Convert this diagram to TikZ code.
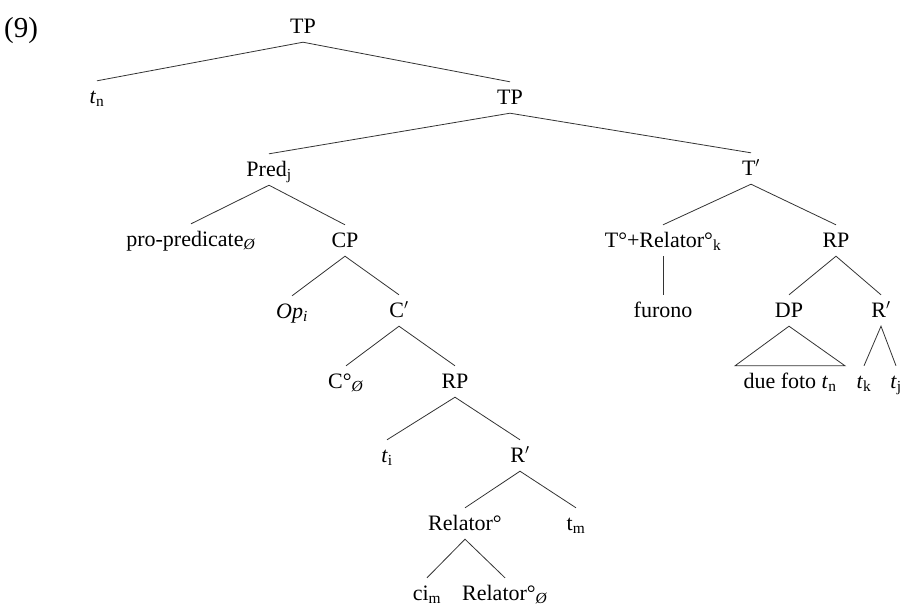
\documentclass[tikz,border=0pt]{standalone}
\usepackage{fontspec}
\setmainfont{Liberation Serif}
\usetikzlibrary{calc}
\tikzset{
  lbl/.style={anchor=base, inner xsep=1pt, inner ysep=5pt, text height=17pt, text depth=4pt, font=\fontsize{22}{26}\selectfont},
  br/.style={draw=black!80, line width=0.8pt}
}
\newcommand{\sub}[1]{\textsubscript{#1}}
\newcommand{\nul}{\textsubscript{\textit{Ø}}}
\begin{document}
\begin{tikzpicture}[x=1pt,y=-1pt]
\useasboundingbox (0,0) rectangle (902,606);
\node[anchor=base west, inner sep=0pt, font=\fontsize{29}{33}\selectfont] (ex) at (4,37) {(9)};
% nodes
\node[lbl] (tp1) at (303,33) {TP};
\node[lbl] (tn) at (97,103) {\textit{t}\sub{n}};
\node[lbl] (tp2) at (510,104) {TP};
\node[lbl] (pred) at (269,176) {Pred\sub{j}};
\node[lbl] (tbar) at (751,175) {T$'$};
\node[lbl] (pro) at (191,246) {pro-predicate\nul};
\node[lbl] (cp) at (345,247) {CP};
\node[lbl] (op) at (292,318) {\textit{Op}\textsubscript{\textit{i}}};
\node[lbl] (cbar) at (399,317) {C$'$};
\node[lbl] (czero) at (346,388) {C°\nul};
\node[lbl] (rp1) at (455,388) {RP};
\node[lbl] (ti) at (387,462) {\textit{t}\sub{i}};
\node[lbl] (rbar1) at (520,462) {R$'$};
\node[lbl] (rel) at (465,530) {Relator°};
\node[lbl] (tm) at (576,530) {t\sub{m}};
\node[lbl] (ci) at (427,600) {ci\sub{m}};
\node[lbl] (relz) at (505,600) {Relator°\nul};
\node[lbl] (trel) at (663,247) {T°+Relator°\sub{k}};
\node[lbl] (rp2) at (836,247) {RP};
\node[lbl] (fur) at (663,317) {furono};
\node[lbl] (dp) at (789,317) {DP};
\node[lbl] (rbar2) at (881,317) {R$'$};
\node[lbl] (due) at (790,388) {due foto \textit{t}\sub{n}};
\node[lbl] (tk) at (864,388) {\textit{t}\sub{k}};
\node[lbl] (tj) at (896,388) {\textit{t}\sub{j}};
% branches
\draw[br] (tn.north) -- (tp1.south) -- (tp2.north);
\draw[br] (pred.north) -- (tp2.south) -- (tbar.north);
\draw[br] (pro.north) -- (pred.south) -- (cp.north);
\draw[br] (op.north) -- (cp.south) -- (cbar.north);
\draw[br] (czero.north) -- (cbar.south) -- (rp1.north);
\draw[br] (ti.north) -- (rp1.south) -- (rbar1.north);
\draw[br] (rel.north) -- (rbar1.south) -- (tm.north);
\draw[br] (ci.north) -- (rel.south) -- (relz.north);
\draw[br] (trel.north) -- (tbar.south) -- (rp2.north);
\draw[br] (trel.south) -- (fur.north);
\draw[br] (dp.north) -- (rp2.south) -- (rbar2.north);
\draw[br] (dp.south) -- ($(due.north)+(-55,0)$) -- ($(due.north)+(55,0)$) -- cycle;
\draw[br] (tk.north) -- (rbar2.south) -- (tj.north);
\end{tikzpicture}
\end{document}
